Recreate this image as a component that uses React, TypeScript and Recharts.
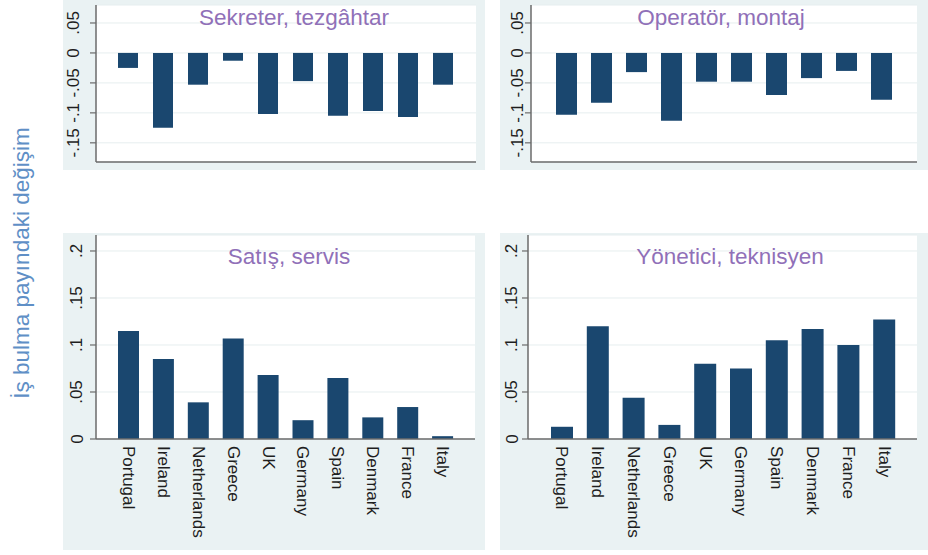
import React from "react";
import { BarChart, Bar, XAxis, YAxis, CartesianGrid } from "recharts";

const countries = ["Portugal", "Ireland", "Netherlands", "Greece", "UK", "Germany", "Spain", "Denmark", "France", "Italy"];
const sekreter = [-0.025, -0.125, -0.053, -0.013, -0.102, -0.047, -0.105, -0.097, -0.107, -0.053];
const operator = [-0.103, -0.083, -0.032, -0.113, -0.048, -0.048, -0.070, -0.042, -0.030, -0.078];
const satis = [0.115, 0.085, 0.039, 0.107, 0.068, 0.020, 0.065, 0.023, 0.034, 0.003];
const yonetici = [0.013, 0.120, 0.044, 0.015, 0.080, 0.075, 0.105, 0.117, 0.100, 0.127];

const topTicks = [-0.15, -0.1, -0.05, 0, 0.05];
const bottomTicks = [0, 0.05, 0.1, 0.15, 0.2];
const topDomain = [-0.182, 0.08];
const bottomDomain = [0, 0.217];

const titles = ["Sekreter, tezgâhtar", "Operatör, montaj", "Satış, servis", "Yönetici, teknisyen"];
const yTitle = "İş bulma payındaki değişim";

const FONT = "'Liberation Sans', Arial, sans-serif";
const BAR = "#1a476f";
const BG = "#eaf2f3";
const AXIS = "#6b6b6b";

const fmt = (v: number) => {
  if (v === 0) return "0";
  const s = String(Number(v.toFixed(3)));
  return s.replace("0.", ".");
};

const build = (vals: number[]) => countries.map((c, i) => ({ country: c, value: vals[i] }));

const YTick = (props: any) => {
  const { x, y, payload } = props;
  return (
    <text
      x={x}
      y={y}
      transform={`rotate(-90, ${x}, ${y})`}
      textAnchor="middle"
      dominantBaseline="central"
      fontSize={17}
      fontFamily={FONT}
      fill="#1e1e1e"
    >
      {fmt(payload.value)}
    </text>
  );
};

const XTick = (props: any) => {
  const { x, y, payload } = props;
  const yy = y + 7;
  return (
    <text
      x={x}
      y={yy}
      transform={`rotate(90, ${x}, ${yy})`}
      textAnchor="start"
      dominantBaseline="central"
      fontSize={17}
      fontFamily={FONT}
      fill="#1e1e1e"
    >
      {payload.value}
    </text>
  );
};

type PanelProps = {
  vals: number[];
  left: number;
  top: number;
  width: number;
  height: number;
  yWidth: number;
  tickMargin: number;
  marginRight: number;
  marginTop: number;
  padL: number;
  padR: number;
  barSize: number;
  bottom: boolean;
  title: string;
  titleX: number;
  titleY: number;
};

const Panel = (p: PanelProps) => (
  <div style={{ position: "absolute", left: p.left, top: p.top, width: p.width, height: p.height, background: BG }}>
    <BarChart
      width={p.width}
      height={p.height}
      data={build(p.vals)}
      margin={{ top: p.marginTop, right: p.marginRight, left: 0, bottom: 0 }}
    >
      <CartesianGrid vertical={false} stroke="#e6eeef" fill="#ffffff" />
      <XAxis
        dataKey="country"
        interval={0}
        padding={{ left: p.padL, right: p.padR }}
        axisLine={{ stroke: AXIS, strokeWidth: 1.5 }}
        tickLine={false}
        tickSize={0}
        tick={p.bottom ? <XTick /> : false}
        height={p.bottom ? p.height - p.marginTop - 204 : 8}
        tickMargin={0}
      />
      <YAxis
        type="number"
        domain={p.bottom ? bottomDomain : topDomain}
        ticks={p.bottom ? bottomTicks : topTicks}
        allowDataOverflow
        width={p.yWidth}
        axisLine={{ stroke: AXIS, strokeWidth: 1.5 }}
        tickLine={{ stroke: AXIS, strokeWidth: 1.2 }}
        tickSize={6}
        tickMargin={p.tickMargin}
        tick={<YTick />}
      />
      <Bar dataKey="value" fill={BAR} barSize={p.barSize} isAnimationActive={false} />
    </BarChart>
    <div
      style={{
        position: "absolute",
        left: p.titleX - p.left,
        top: p.titleY - p.top,
        transform: "translate(-50%, -50%)",
        whiteSpace: "nowrap",
        fontFamily: FONT,
        fontSize: 22.5,
        color: "#9070b8",
      }}
    >
      {p.title}
    </div>
  </div>
);

export default function App() {
  return (
    <div style={{ position: "absolute", left: 0, top: 0, width: 928, height: 555, background: "#ffffff", overflow: "hidden" }}>
      <Panel vals={sekreter} left={63} top={0} width={422} height={170} yWidth={33} tickMargin={16} marginRight={9} marginTop={5}
        padL={14} padR={16} barSize={20} bottom={false} title={titles[0]} titleX={294} titleY={18} />
      <Panel vals={operator} left={500} top={0} width={428} height={170} yWidth={31} tickMargin={7} marginRight={11} marginTop={5}
        padL={18} padR={18} barSize={21} bottom={false} title={titles[1]} titleX={721} titleY={18} />
      <Panel vals={satis} left={63} top={233} width={422} height={317} yWidth={33} tickMargin={13} marginRight={10} marginTop={2}
        padL={15} padR={15} barSize={21} bottom={true} title={titles[2]} titleX={289} titleY={257} />
      <Panel vals={yonetici} left={500} top={233} width={428} height={317} yWidth={28} tickMargin={10} marginRight={11} marginTop={2}
        padL={16} padR={15} barSize={22} bottom={true} title={titles[3]} titleX={730} titleY={257} />
      <div
        style={{
          position: "absolute",
          left: 22,
          top: 263,
          transform: "translate(-50%, -50%) rotate(-90deg)",
          whiteSpace: "nowrap",
          fontFamily: FONT,
          fontSize: 22.5,
          color: "#5f8fc6",
        }}
      >
        {yTitle}
      </div>
    </div>
  );
}
